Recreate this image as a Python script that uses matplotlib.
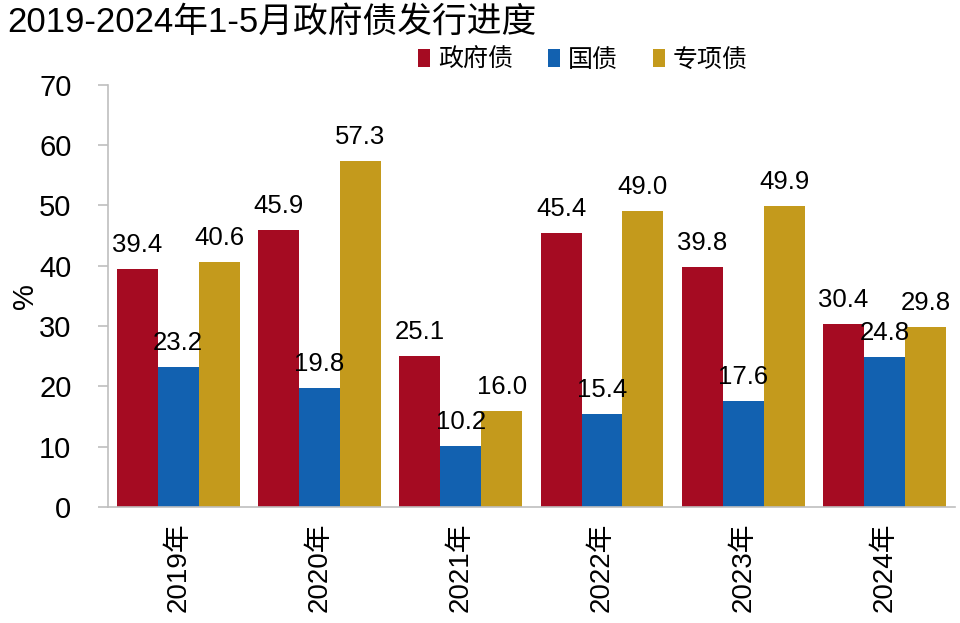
import matplotlib.pyplot as plt
import numpy as np

plt.rcParams['font.family'] = ['Liberation Sans', 'Noto Sans CJK SC']

years = ["2019年", "2020年", "2021年", "2022年", "2023年", "2024年"]
gov_debt = [39.4, 45.9, 25.1, 45.4, 39.8, 30.4]
treasury = [23.2, 19.8, 10.2, 15.4, 17.6, 24.8]
special = [40.6, 57.3, 16.0, 49.0, 49.9, 29.8]

series = [
    ("政府债", gov_debt, "#A50B22"),
    ("国债", treasury, "#1261B0"),
    ("专项债", special, "#C49A1C"),
]

fig = plt.figure(figsize=(9.6, 6.23), dpi=100)
ax = fig.add_axes([0.112, 0.186, 0.883, 0.678])

x = np.arange(len(years))
w = 0.29
for i, (name, vals, color) in enumerate(series):
    pos = x + (i - 1) * w
    ax.bar(pos, vals, width=w, color=color, label=name)
    for px, v in zip(pos, vals):
        ax.text(px, v + 2.0, f"{v:.1f}", ha="center", va="bottom", fontsize=18.5)

ax.set_xlim(-0.5, len(years) - 0.5)
ax.set_ylim(0, 70)
ax.set_yticks(range(0, 71, 10))
ax.tick_params(axis="y", labelsize=21, length=7, width=1.2, color="#BFBFBF", pad=19)
ax.set_xticks(x)
ax.set_xticklabels(years, rotation=90, fontsize=20)
ax.tick_params(axis="x", length=0, pad=11)
for s in ["top", "right"]:
    ax.spines[s].set_visible(False)
for s in ["left", "bottom"]:
    ax.spines[s].set_color("#BFBFBF")
    ax.spines[s].set_linewidth(1.2)
ax.set_ylabel("%", fontsize=21, labelpad=0)

fig.text(0.008, 0.965, "2019-2024年1-5月政府债发行进度", fontsize=25, va="center", ha="left")
fig.legend(loc="center", bbox_to_anchor=(0.607, 0.904), ncol=3, frameon=False,
           fontsize=18, handlelength=0.5, handleheight=0.7, handletextpad=0.3,
           columnspacing=1.4)

fig.savefig("out.png", dpi=100)
